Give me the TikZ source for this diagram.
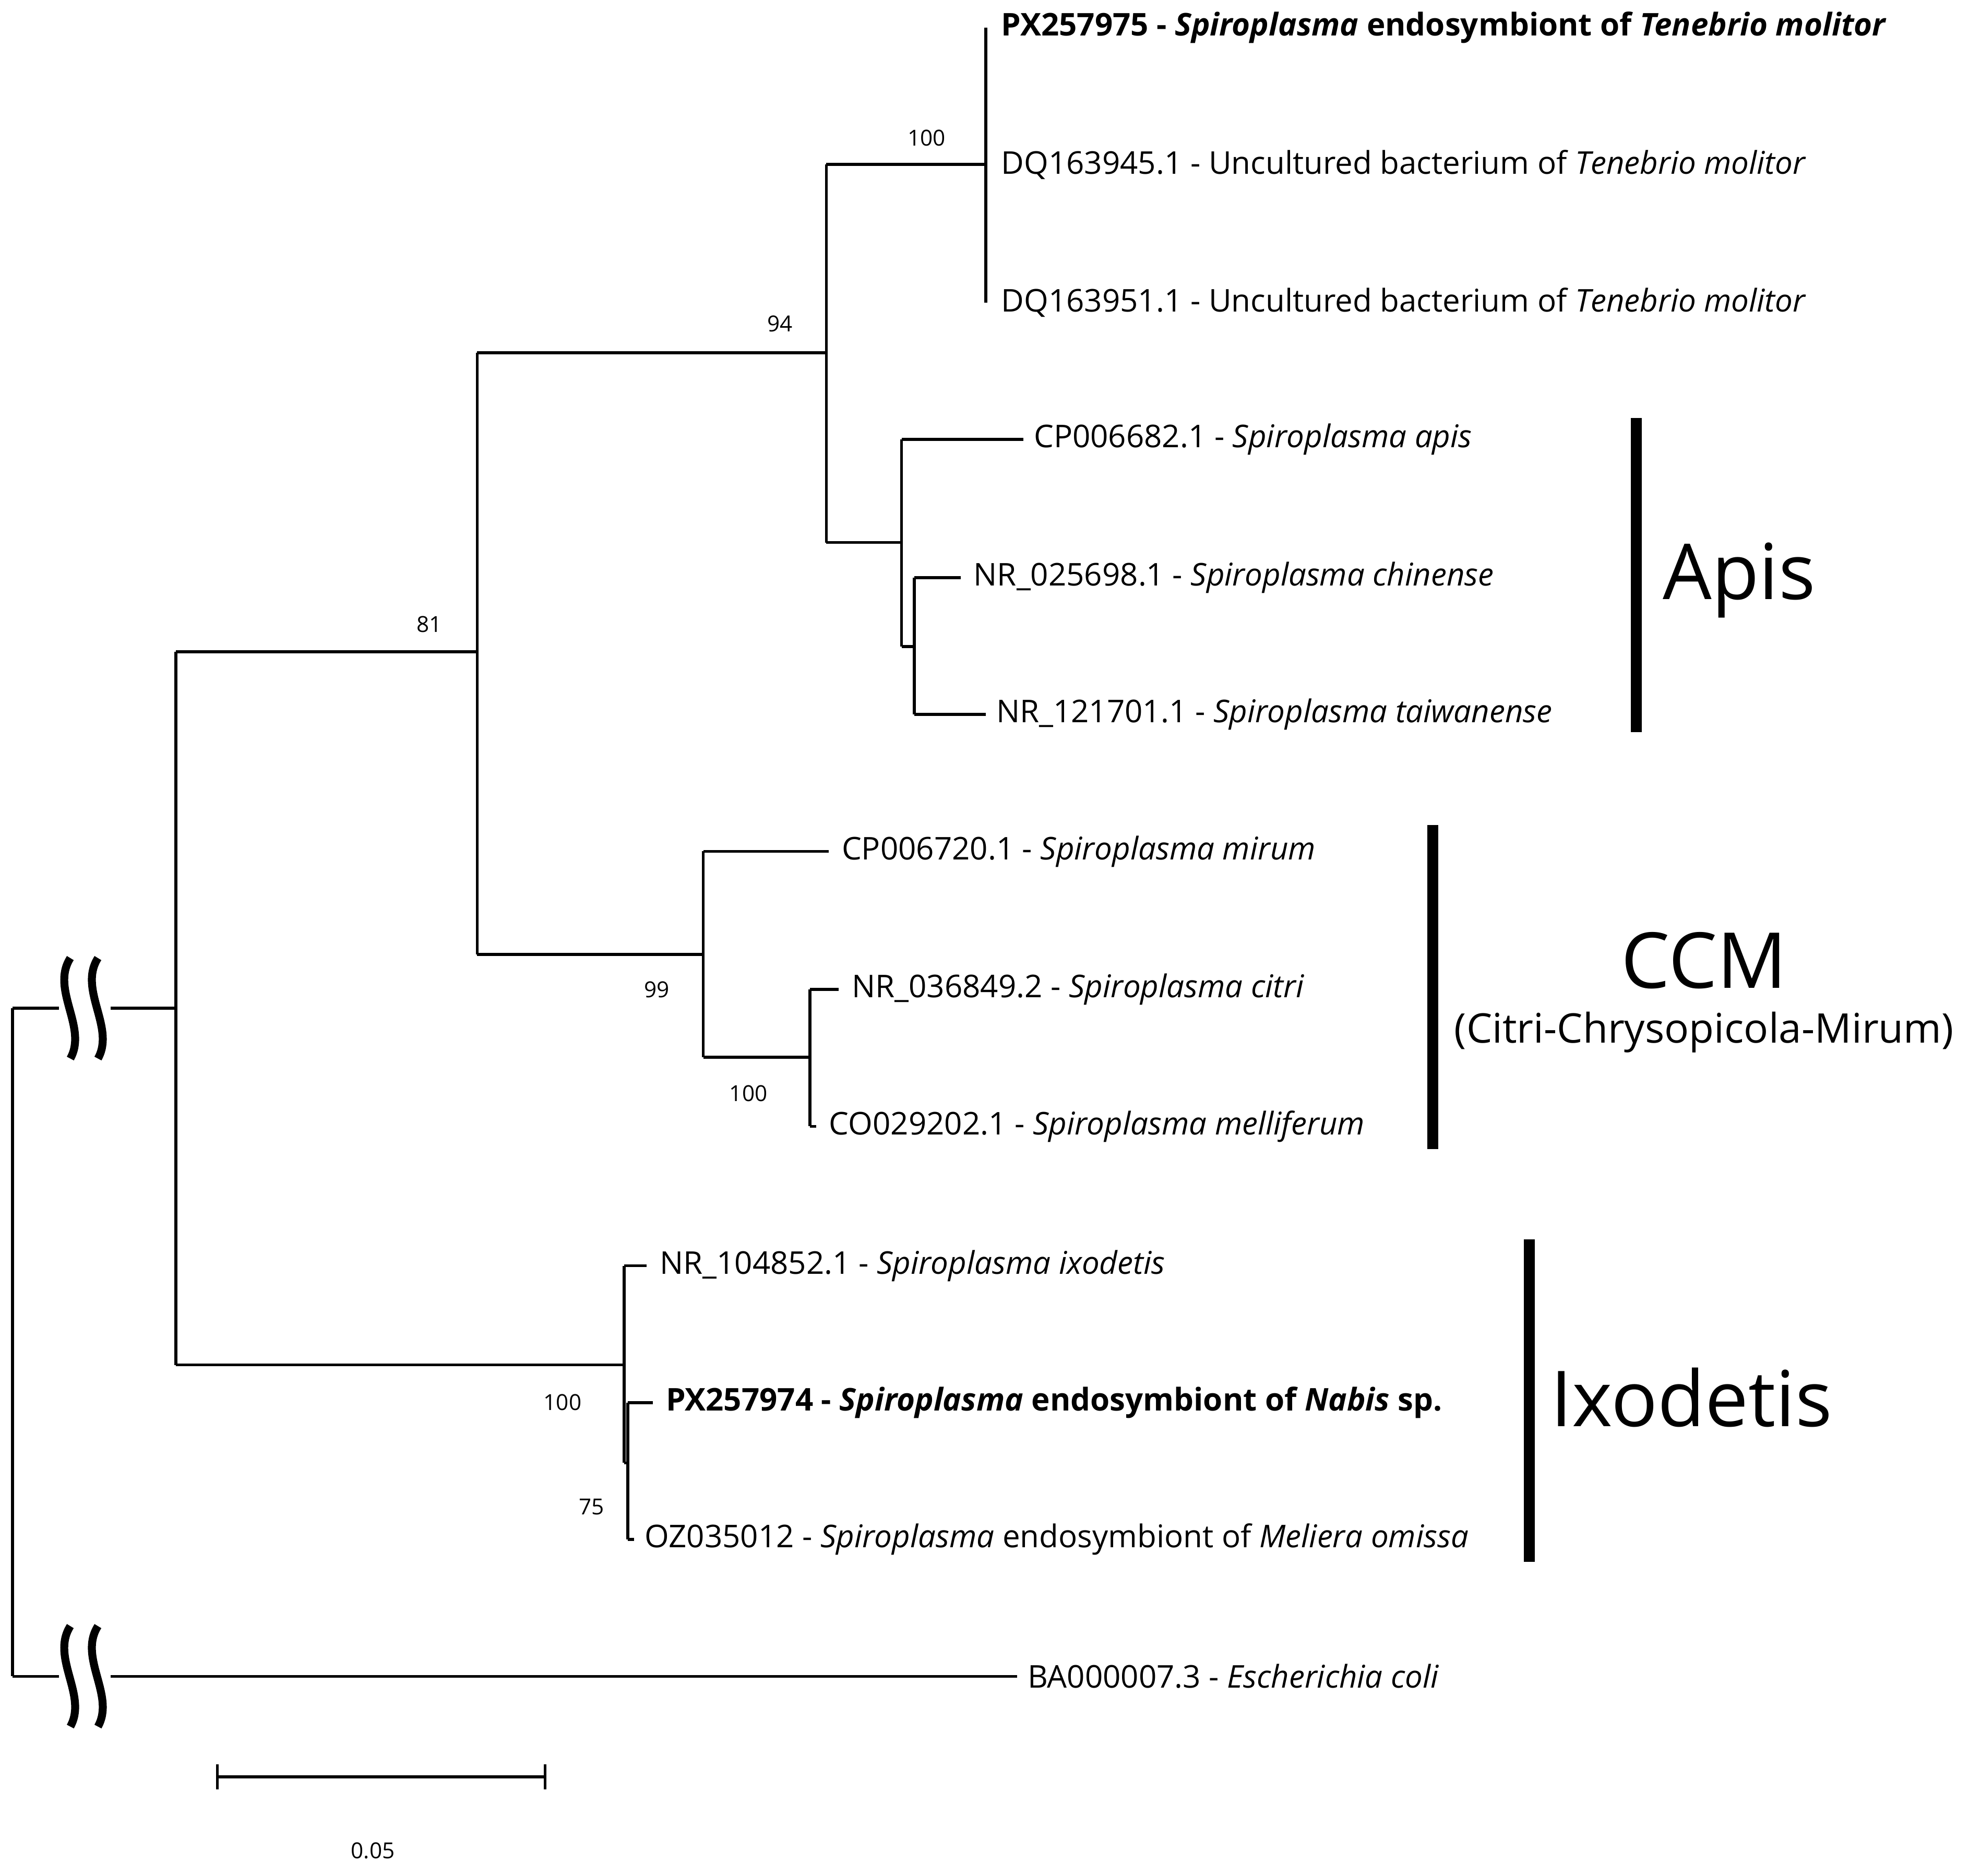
\documentclass[tikz,border=0pt]{standalone}
\usepackage{fontspec}
\setmainfont{Open Sans}
\begin{document}
\begin{tikzpicture}[x=0.02cm,y=-0.02cm,
  br/.style={line width=1.3pt,line join=miter},
  leaf/.style={anchor=west,inner sep=0pt,font=\fontsize{14.2}{16}\selectfont},
  boot/.style={inner sep=0pt,font=\fontsize{10}{12}\selectfont},
  bar/.style={line width=5pt},
  brk/.style={line width=3.6pt},
  big/.style={inner sep=0pt,font=\fontsize{35}{40}\selectfont}]
\useasboundingbox (0,0) rectangle (1568,1494);
% internal nodes
\coordinate (r) at (10,803);
\coordinate (n1) at (140,803);
\coordinate (n2) at (380,519);
\coordinate (n3) at (658,281);
\coordinate (n4) at (785,131);
\coordinate (n5) at (718,432);
\coordinate (n6) at (728,515);
\coordinate (n7) at (560,760);
\coordinate (n8) at (645,842);
\coordinate (n9) at (497,1087);
\coordinate (n10) at (500,1165);
% leaves
\node[leaf] (l1) at (797,22) {\textbf{PX257975 - \textit{Spiroplasma} endosymbiont of \textit{Tenebrio molitor}}};
\node[leaf] (l2) at (797,131) {DQ163945.1 - Uncultured bacterium of \textit{Tenebrio molitor}};
\node[leaf] (l3) at (797,241) {DQ163951.1 - Uncultured bacterium of \textit{Tenebrio molitor}};
\node[leaf] (l4) at (823,350) {CP006682.1 - \textit{Spiroplasma apis}};
\node[leaf] (l5) at (775,460) {NR\_025698.1 - \textit{Spiroplasma chinense}};
\node[leaf] (l6) at (793,569) {NR\_121701.1 - \textit{Spiroplasma taiwanense}};
\node[leaf] (l7) at (670,678) {CP006720.1 - \textit{Spiroplasma mirum}};
\node[leaf] (l8) at (678,788) {NR\_036849.2 - \textit{Spiroplasma citri}};
\node[leaf] (l9) at (660,897) {CO029202.1 - \textit{Spiroplasma melliferum}};
\node[leaf] (l10) at (525,1008) {NR\_104852.1 - \textit{Spiroplasma ixodetis}};
\node[leaf] (l11) at (530,1117) {\textbf{PX257974 - \textit{Spiroplasma} endosymbiont of \textit{Nabis} sp.}};
\node[leaf] (l12) at (513,1226) {OZ035012 - \textit{Spiroplasma} endosymbiont of \textit{Meliera omissa}};
\node[leaf] (l13) at (818,1335) {BA000007.3 - \textit{Escherichia coli}};
% branches
\draw[br] (785,22) -- (785,241);
\draw[br] (n4) -- (785,131);
\draw[br] (658,131) -- (n4);
\draw[br] (658,131) -- (658,432);
\draw[br] (n3) -- (658,281);
\draw[br] (380,281) -- (n3);
\draw[br] (658,432) -- (n5);
\draw[br] (718,350) -- (718,515);
\draw[br] (718,350) -- (815,350);
\draw[br] (718,515) -- (n6);
\draw[br] (728,460) -- (728,569);
\draw[br] (728,460) -- (765,460);
\draw[br] (728,569) -- (785,569);
\draw[br] (380,281) -- (380,760);
\draw[br] (140,519) -- (n2);
\draw[br] (380,760) -- (n7);
\draw[br] (560,678) -- (560,842);
\draw[br] (560,678) -- (660,678);
\draw[br] (560,842) -- (n8);
\draw[br] (645,788) -- (645,897);
\draw[br] (645,788) -- (668,788);
\draw[br] (645,897) -- (650,897);
\draw[br] (140,519) -- (140,1087);
\draw[br] (140,1087) -- (n9);
\draw[br] (497,1008) -- (497,1165);
\draw[br] (497,1008) -- (515,1008);
\draw[br] (497,1165) -- (n10);
\draw[br] (500,1117) -- (500,1226);
\draw[br] (500,1117) -- (520,1117);
\draw[br] (500,1226) -- (505,1226);
% root
\draw[br] (r) -- (10,1335);
\draw[br] (r) -- (47,803);
\draw[br] (88,803) -- (n1);
\draw[br] (10,1335) -- (47,1335);
\draw[br] (88,1335) -- (810,1335);
% break marks
\foreach \yy in {803,1335}{
  \draw[brk] (56,\yy-40) .. controls (40,\yy-15) and (70,\yy+15) .. (56,\yy+40);
  \draw[brk] (78,\yy-40) .. controls (62,\yy-15) and (92,\yy+15) .. (78,\yy+40);
}
% bootstrap
\node[boot] (b1) at (738,110) {100};
\node[boot] (b2) at (621,258) {94};
\node[boot] (b3) at (342,497) {81};
\node[boot] (b4) at (523,788) {99};
\node[boot] (b5) at (596,871) {100};
\node[boot] (b6) at (448,1117) {100};
\node[boot] (b7) at (471,1200) {75};
% clades
\draw[bar] (1303,333) -- (1303,583);
\node[big] (apis) at (1385,462) {Apis};
\draw[bar] (1141,657) -- (1141,915);
\node[big] (ccm) at (1357,765) {CCM};
\node[inner sep=0pt,font=\fontsize{18.5}{21}\selectfont] (ccm2) at (1357,822) {(Citri-Chrysopicola-Mirum)};
\draw[bar] (1218,987) -- (1218,1244);
\node[big] (ixo) at (1347,1113) {Ixodetis};
% scale bar
\draw[br] (173,1415) -- (434,1415);
\draw[br] (173,1405) -- (173,1425);
\draw[br] (434,1405) -- (434,1425);
\node[boot] (sc) at (297,1474) {0.05};
\end{tikzpicture}
\end{document}
